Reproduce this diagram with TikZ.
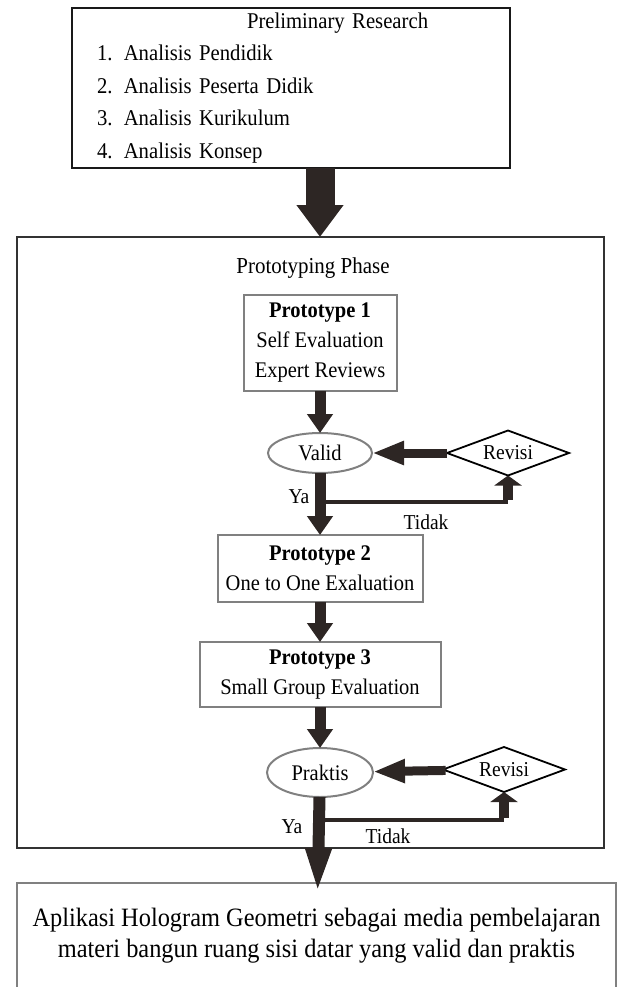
\documentclass[tikz,border=0pt]{standalone}
\usepackage{fontspec}
\setmainfont{Liberation Serif}[FakeStretch=0.92]
\usetikzlibrary{arrows.meta,positioning,shapes.geometric}
\definecolor{arrowdark}{RGB}{45,38,36}
\definecolor{boxgray}{RGB}{128,128,128}
\definecolor{framedark}{RGB}{50,50,50}

\begin{document}
\begin{tikzpicture}[
    x=1pt, y=-1pt,
    every node/.style={font=\fontsize{22.3}{30}\selectfont, outer sep=0pt},
    research/.style={draw=black!90, line width=2.2pt, inner sep=0pt, align=left, text width=388pt, minimum width=438pt, minimum height=160pt, font=\fontsize{22.5}{32.5}\selectfont},
    phasebox/.style={draw=framedark, line width=2.5pt, minimum width=587pt, minimum height=611pt},
    stage/.style={draw=boxgray, line width=2pt, align=center, inner sep=0pt},
    oval/.style={ellipse, draw=boxgray, line width=2pt, inner sep=0pt},
    revisi/.style={diamond, draw=black, line width=1.8pt, aspect=2.7, inner sep=0pt, minimum width=122pt, minimum height=45pt, font=\fontsize{21.2}{24}\selectfont},
    answer/.style={font=\fontsize{21.2}{24}\selectfont},
    bigflow/.style={draw=arrowdark, line width=29pt, -{Triangle[width=45pt,length=32pt]}},
    mainflow/.style={draw=arrowdark, line width=11pt, -{Triangle[width=25pt,length=19pt]}},
    backflow/.style={draw=arrowdark, line width=9pt, -{Triangle[width=22pt,length=32pt]}},
    uparrow/.style={draw=arrowdark, line width=10pt, -{Triangle[width=27pt,length=10pt]}},
    tline/.style={draw=arrowdark, line width=3.5pt}
]
\useasboundingbox (0,0) rectangle (621,987);
\node[research] (prelim) at (291,88) {\hspace*{150pt}Preliminary Research\\1. Analisis Pendidik\\2. Analisis Peserta Didik\\3. Analisis Kurikulum\\4. Analisis Konsep};
\node[phasebox] (phase) at (310.5,542.5) {};
\node[font=\fontsize{22.8}{26}\selectfont] (phasetitle) at (313,268) {Prototyping Phase};
\node[stage, minimum width=153pt, minimum height=96pt] (p1) at (320,343) {\textbf{Prototype 1}\\Self Evaluation\\Expert Reviews};
\node[oval, minimum width=104pt, minimum height=40pt, below=42pt of p1] (valid) {Valid};
\node[revisi, right=75pt of valid] (rev1) {Revisi};
\node[stage, minimum width=205pt, minimum height=67pt, below=62pt of valid] (p2) {\textbf{Prototype 2}\\One to One Exaluation};
\node[stage, minimum width=241pt, minimum height=65pt, below=40pt of p2] (p3) {\textbf{Prototype 3}\\Small Group Evaluation};
\node[oval, minimum width=106pt, minimum height=49pt, below=41pt of p3] (praktis) {Praktis};
\node[revisi, right=70pt of praktis, yshift=3pt] (rev2) {Revisi};
\node[stage, anchor=north, minimum width=599pt, minimum height=130pt, font=\fontsize{26.5}{31}\selectfont] (result) at (316.5,883) {Aplikasi Hologram Geometri sebagai media pembelajaran\\materi bangun ruang sisi datar yang valid dan praktis\\\mbox{}};
\coordinate[below=29pt of valid] (j1);
\coordinate[below=23pt of praktis] (j2);
\node[answer] (ya1) at (299,497) {Ya};
\node[answer] (tidak1) at (426,522) {Tidak};
\node[answer] (ya2) at (292,827) {Ya};
\node[answer] (tidak2) at (388,836) {Tidak};
\draw[bigflow] (prelim.south -| p1.north) -- (phase.north -| p1.north);
\draw[mainflow] (p1) -- (valid);
\draw[backflow] (rev1) -- (valid);
\draw[tline] (j1) -- (j1 -| rev1.south);
\draw[uparrow] ([yshift=1.75pt]j1 -| rev1.south) -- (rev1.south);
\draw[mainflow] (valid) -- (p2);
\draw[mainflow] (p2) -- (p3);
\draw[mainflow] (p3) -- (praktis);
\draw[backflow] (rev2) -- (praktis);
\draw[tline] (j2) -- (j2 -| rev2.south);
\draw[uparrow] ([yshift=1.75pt]j2 -| rev2.south) -- (rev2.south);
\draw[mainflow, -{Triangle[width=23pt,length=47pt]}, line width=12pt, shorten >=-12pt] (praktis) -- (result);
\end{tikzpicture}
\end{document}
